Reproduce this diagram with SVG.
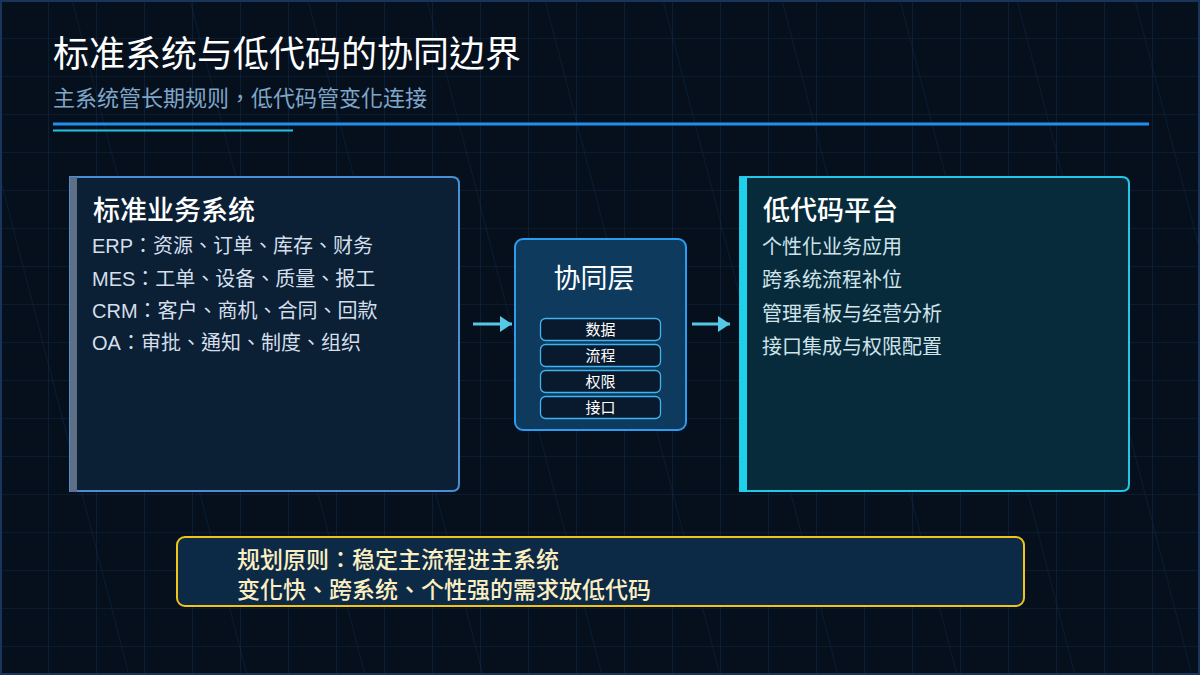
<svg xmlns="http://www.w3.org/2000/svg" width="1200" height="675" viewBox="0 0 1200 675">
  <defs>
    <pattern id="grid" width="48" height="38" patternUnits="userSpaceOnUse">
      <path d="M0,0 V38 M0,0 H48" fill="none" stroke="#0f2746" stroke-width="1.2"/>
    </pattern>
    <marker id="arrow" markerWidth="12" markerHeight="16" refX="12" refY="8" orient="auto" markerUnits="userSpaceOnUse">
      <path d="M0,0 L12,8 L0,16 Z" fill="#55c8e6"/>
    </marker>
    <style>
      text { font-family: "Noto Sans CJK TC", "Noto Sans CJK SC", sans-serif; }
      .title { font-size: 36px; fill: #ffffff; }
      .subtitle { font-size: 22px; fill: #7fa6c8; }
      .cardTitle { font-size: 27px; fill: #ffffff; font-weight: 500; }
      .item1 { font-size: 20px; fill: #d4dfeb; font-family: "Liberation Sans", "Noto Sans CJK TC", "Noto Sans CJK SC", sans-serif; }
      .item2 { font-size: 20px; fill: #cfe3ea; }
      .pill { fill: #0a1a2e; stroke: #3fb4f0; stroke-width: 1.3; }
      .pillText { font-size: 15px; fill: #ffffff; text-anchor: middle; }
      .note { font-size: 23px; fill: #fbefc2; font-weight: 500; }
      .diag { stroke: #14304f; stroke-width: 1; opacity: 0.4; }
      .conn { stroke: #55c8e6; stroke-width: 3; fill: none; }
    </style>
  </defs>

  <!-- background -->
  <rect x="0" y="0" width="1200" height="675" fill="#06101d"/>
  <rect x="0" y="0" width="1200" height="675" fill="url(#grid)"/>
  <g id="diagonals">
    <line class="diag" x1="-46" y1="0" x2="129" y2="675"/>
    <line class="diag" x1="72" y1="0" x2="247" y2="675"/>
    <line class="diag" x1="190" y1="0" x2="365" y2="675"/>
    <line class="diag" x1="308" y1="0" x2="483" y2="675"/>
    <line class="diag" x1="427" y1="0" x2="602" y2="675"/>
    <line class="diag" x1="545" y1="0" x2="720" y2="675"/>
    <line class="diag" x1="663" y1="0" x2="838" y2="675"/>
    <line class="diag" x1="782" y1="0" x2="957" y2="675"/>
    <line class="diag" x1="900" y1="0" x2="1075" y2="675"/>
    <line class="diag" x1="1017" y1="0" x2="1192" y2="675"/>
    <line class="diag" x1="1135" y1="0" x2="1310" y2="675"/>
  </g>
  <rect x="1" y="1" width="1198" height="673" fill="none" stroke="#1b355a" stroke-width="2"/>

  <!-- header -->
  <g id="header">
    <text class="title" x="53" y="67">标准系统与低代码的协同边界</text>
    <text class="subtitle" x="53" y="106">主系统管长期规则，低代码管变化连接</text>
    <rect x="53" y="122.5" width="1096" height="3" fill="#1f8ff0"/>
    <rect x="53" y="129.5" width="240" height="2" fill="#22c4e6"/>
  </g>

  <!-- left card -->
  <g id="standard-system">
    <path d="M70,177 H452 Q459,177 459,184 V484 Q459,491 452,491 H70 Z" fill="#0b1f35" stroke="#4a8fd6" stroke-width="2"/>
    <rect x="70" y="177" width="7" height="315" fill="#5f7086"/>
    <text class="cardTitle" x="93" y="220">标准业务系统</text>
    <text class="item1" x="92" y="253">ERP：资源、订单、库存、财务</text>
    <text class="item1" x="92" y="285.5">MES：工单、设备、质量、报工</text>
    <text class="item1" x="92" y="318">CRM：客户、商机、合同、回款</text>
    <text class="item1" x="92" y="350">OA：审批、通知、制度、组织</text>
  </g>

  <!-- center node -->
  <g id="collab-layer">
    <rect x="515" y="239" width="171" height="191" rx="8" fill="#0e3a5e" stroke="#2b9cf0" stroke-width="2"/>
    <text x="594" y="288" font-size="27" fill="#ffffff" text-anchor="middle">协同层</text>
    <rect class="pill" x="540.5" y="318.5" width="120" height="22" rx="5"/>
    <text class="pillText" x="600.5" y="334.5">数据</text>
    <rect class="pill" x="540.5" y="344.5" width="120" height="22" rx="5"/>
    <text class="pillText" x="600.5" y="360.5">流程</text>
    <rect class="pill" x="540.5" y="370.5" width="120" height="22" rx="5"/>
    <text class="pillText" x="600.5" y="386.5">权限</text>
    <rect class="pill" x="540.5" y="396.5" width="120" height="22" rx="5"/>
    <text class="pillText" x="600.5" y="412.5">接口</text>
  </g>

  <!-- right card -->
  <g id="lowcode-platform">
    <path d="M740,177 H1122 Q1129,177 1129,184 V484 Q1129,491 1122,491 H740 Z" fill="#082b3b" stroke="#22c6e6" stroke-width="2"/>
    <rect x="740" y="177" width="7" height="315" fill="#1fd0ea"/>
    <text class="cardTitle" x="763" y="220">低代码平台</text>
    <text class="item2" x="762" y="254">个性化业务应用</text>
    <text class="item2" x="762" y="287">跨系统流程补位</text>
    <text class="item2" x="762" y="320.5">管理看板与经营分析</text>
    <text class="item2" x="762" y="354">接口集成与权限配置</text>
  </g>

  <!-- connectors -->
  <g id="connectors">
    <line class="conn" x1="473" y1="324" x2="512" y2="324" marker-end="url(#arrow)"/>
    <line class="conn" x1="692" y1="324" x2="730" y2="324" marker-end="url(#arrow)"/>
  </g>

  <!-- bottom note -->
  <g id="principle">
    <rect x="177" y="537" width="847" height="69" rx="8" fill="#0c2946" stroke="#f2c417" stroke-width="2"/>
    <text class="note" x="237" y="568">规划原则：稳定主流程进主系统</text>
    <text class="note" x="237" y="597.5">变化快、跨系统、个性强的需求放低代码</text>
  </g>
</svg>
